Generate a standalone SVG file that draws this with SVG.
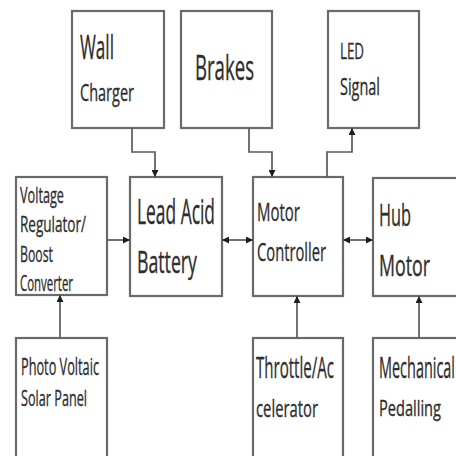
<svg xmlns="http://www.w3.org/2000/svg" width="456" height="456" viewBox="0 0 456 456">
<style>
.box{fill:#fff;stroke:#6a6a6a;stroke-width:2.2}
.t{font-family:"Open Sans","Liberation Sans",sans-serif;fill:#2e2e2e;stroke:#2e2e2e;stroke-width:0.35}
.c{fill:none;stroke:#5a5a5a;stroke-width:1.7}
</style>
<defs>
<marker id="ah" viewBox="0 0 10 10" refX="10" refY="5" markerWidth="7" markerHeight="7" markerUnits="userSpaceOnUse" orient="auto-start-reverse">
<path d="M0,0 L10,5 L0,10 z" fill="#1e1e1e"/>
</marker>
</defs>
<rect width="456" height="456" fill="#fff"/>
<g id="wall-charger"><rect class="box" x="72" y="11" width="92" height="117"/>
<text class="t" x="80" y="59" font-size="33" textLength="34" lengthAdjust="spacingAndGlyphs">Wall</text>
<text class="t" x="80" y="101" font-size="24" textLength="54" lengthAdjust="spacingAndGlyphs">Charger</text></g>
<g id="brakes"><rect class="box" x="181" y="11" width="91" height="117"/>
<text class="t" x="195" y="80" font-size="35" textLength="59" lengthAdjust="spacingAndGlyphs">Brakes</text></g>
<g id="led-signal"><rect class="box" x="328" y="11" width="91" height="117"/>
<text class="t" x="340" y="59" font-size="22" textLength="24" lengthAdjust="spacingAndGlyphs">LED</text>
<text class="t" x="340" y="95" font-size="24" textLength="40" lengthAdjust="spacingAndGlyphs">Signal</text></g>
<g id="voltage-regulator"><rect class="box" x="16" y="177" width="91" height="118"/>
<text class="t" x="20" y="203" font-size="21" textLength="44" lengthAdjust="spacingAndGlyphs">Voltage</text>
<text class="t" x="20" y="232" font-size="21" textLength="66" lengthAdjust="spacingAndGlyphs">Regulator/</text>
<text class="t" x="20" y="262" font-size="21" textLength="33" lengthAdjust="spacingAndGlyphs">Boost</text>
<text class="t" x="20" y="291" font-size="21" textLength="53" lengthAdjust="spacingAndGlyphs">Converter</text></g>
<g id="battery"><rect class="box" x="130" y="177" width="92" height="119"/>
<text class="t" x="137" y="224" font-size="34" textLength="78" lengthAdjust="spacingAndGlyphs">Lead Acid</text>
<text class="t" x="137" y="273" font-size="31" textLength="60" lengthAdjust="spacingAndGlyphs">Battery</text></g>
<g id="motor-controller"><rect class="box" x="253" y="177" width="90" height="119"/>
<text class="t" x="257" y="221" font-size="26" textLength="43" lengthAdjust="spacingAndGlyphs">Motor</text>
<text class="t" x="257" y="261" font-size="25" textLength="69" lengthAdjust="spacingAndGlyphs">Controller</text></g>
<g id="hub-motor"><rect class="box" x="373" y="178" width="100" height="118"/>
<text class="t" x="379" y="226" font-size="31" textLength="32" lengthAdjust="spacingAndGlyphs">Hub</text>
<text class="t" x="379" y="276" font-size="29" textLength="51" lengthAdjust="spacingAndGlyphs">Motor</text></g>
<g id="solar-panel"><rect class="box" x="16" y="338" width="91" height="130"/>
<text class="t" x="21" y="375" font-size="24" textLength="78" lengthAdjust="spacingAndGlyphs">Photo Voltaic</text>
<text class="t" x="21" y="406" font-size="22" textLength="66" lengthAdjust="spacingAndGlyphs">Solar Panel</text></g>
<g id="throttle"><rect class="box" x="253" y="338" width="90" height="130"/>
<text class="t" x="256" y="378" font-size="29" textLength="78" lengthAdjust="spacingAndGlyphs">Throttle/Ac</text>
<text class="t" x="256" y="417" font-size="24" textLength="62" lengthAdjust="spacingAndGlyphs">celerator</text></g>
<g id="pedalling"><rect class="box" x="373" y="338" width="100" height="130"/>
<text class="t" x="379" y="378" font-size="29" textLength="76" lengthAdjust="spacingAndGlyphs">Mechanical</text>
<text class="t" x="379" y="416" font-size="22" textLength="62" lengthAdjust="spacingAndGlyphs">Pedalling</text></g>
<g id="connectors">
<polyline class="c" points="132,128 132,152 155,152 155,177" marker-end="url(#ah)"/>
<polyline class="c" points="249,128 249,152 272,152 272,177" marker-end="url(#ah)"/>
<polyline class="c" points="327,177 327,152 352,152 352,128" marker-end="url(#ah)"/>
<line class="c" x1="107" y1="240" x2="130" y2="240" marker-end="url(#ah)"/>
<line class="c" x1="222" y1="240" x2="253" y2="240" marker-start="url(#ah)" marker-end="url(#ah)"/>
<line class="c" x1="343" y1="240" x2="373" y2="240" marker-start="url(#ah)" marker-end="url(#ah)"/>
<line class="c" x1="60" y1="338" x2="60" y2="295" marker-end="url(#ah)"/>
<line class="c" x1="297" y1="338" x2="297" y2="296" marker-end="url(#ah)"/>
<line class="c" x1="419" y1="338" x2="419" y2="296" marker-end="url(#ah)"/>
</g>
</svg>
